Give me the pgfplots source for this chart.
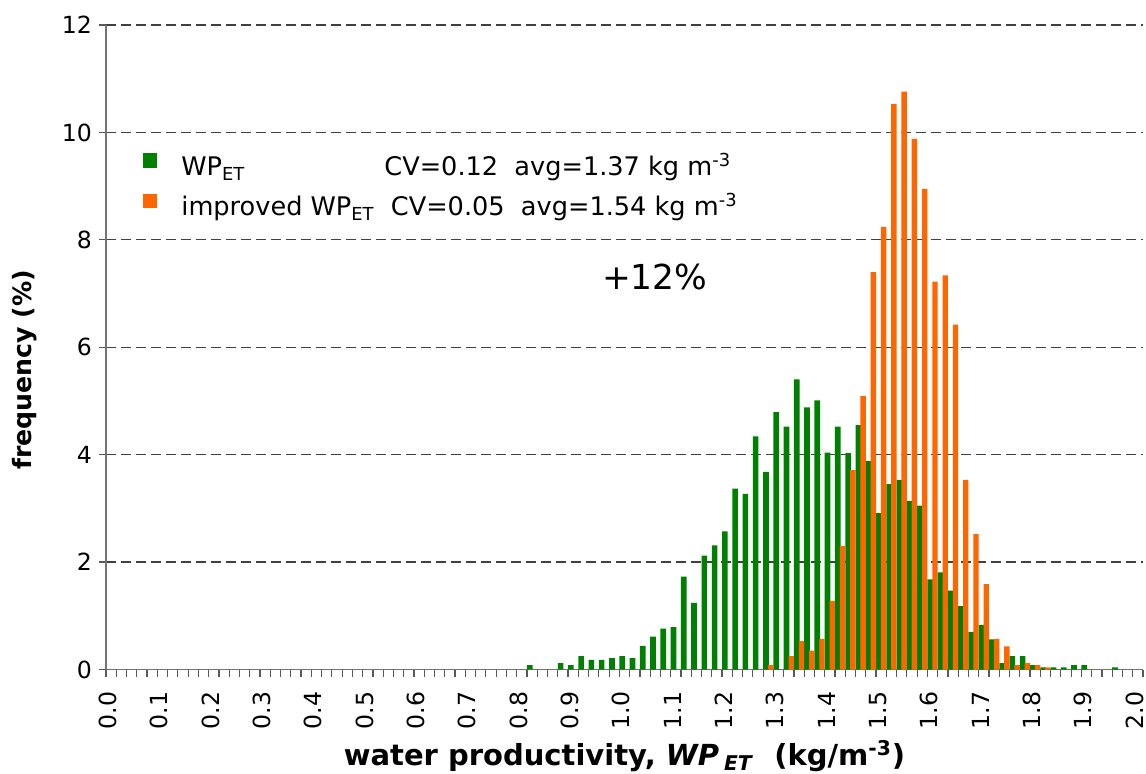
\documentclass[border=0pt]{standalone}
\usepackage{pgfplots}
\usepackage{pgfplotstable}
\pgfplotsset{compat=1.18}
\usepackage{fontspec}
\setmainfont{DejaVu Sans}
\definecolor{wpgreen}{HTML}{008000}
\definecolor{wporange}{HTML}{FF6600}

% bin centre (bins of 0.02) and frequency (%)
\pgfplotstableread{
x f
0.83 0.08
0.89 0.12
0.91 0.08
0.93 0.25
0.95 0.18
0.97 0.18
0.99 0.21
1.01 0.25
1.03 0.21
1.05 0.44
1.07 0.61
1.09 0.76
1.11 0.79
1.13 1.73
1.15 1.24
1.17 2.12
1.19 2.31
1.21 2.57
1.23 3.37
1.25 3.27
1.27 4.34
1.29 3.68
1.31 4.79
1.33 4.52
1.35 5.40
1.37 4.88
1.39 5.01
1.41 4.04
1.43 4.52
1.45 4.03
1.47 4.55
1.49 3.88
1.51 2.91
1.53 3.45
1.55 3.53
1.57 3.14
1.59 3.05
1.61 1.68
1.63 1.81
1.65 1.47
1.67 1.18
1.69 0.70
1.71 0.83
1.73 0.56
1.75 0.12
1.77 0.25
1.79 0.25
1.81 0.08
1.83 0.04
1.85 0.04
1.87 0.04
1.89 0.08
1.91 0.08
1.97 0.04
}\wpet

\pgfplotstableread{
x f
1.29 0.08
1.33 0.25
1.35 0.53
1.37 0.35
1.39 0.57
1.41 1.28
1.43 2.30
1.45 3.71
1.47 5.09
1.49 7.40
1.51 8.24
1.53 10.53
1.55 10.76
1.57 9.88
1.59 8.95
1.61 7.22
1.63 7.34
1.65 6.42
1.67 3.53
1.69 2.52
1.71 1.59
1.73 0.57
1.75 0.43
1.77 0.08
1.79 0.12
1.81 0.08
1.83 0.04
}\wpimp

\begin{document}
\begin{tikzpicture}[x=1pt,y=1pt]
\useasboundingbox (-53,-51.75) rectangle (520,334.75);
\begin{axis}[
  at={(0,0)}, anchor=south west, scale only axis,
  width=518.5pt, height=322.25pt,
  xmin=0, xmax=2.02, ymin=0, ymax=12,
  axis x line*=bottom, axis y line*=left,
  axis line style={draw=black!55, line width=0.7pt},
  tick align=outside,
  major tick length=3.5pt, minor tick length=3.5pt,
  tick style={black!65, line width=0.6pt},
  xtick={0,0.1,0.2,0.3,0.4,0.5,0.6,0.7,0.8,0.9,1.0,1.1,1.2,1.3,1.4,1.5,1.6,1.7,1.8,1.9,2.0},
  xticklabels={0.0,0.1,0.2,0.3,0.4,0.5,0.6,0.7,0.8,0.9,1.0,1.1,1.2,1.3,1.4,1.5,1.6,1.7,1.8,1.9,2.0},
  minor xtick={0,0.02,...,2.02},
  ytick={2,4,...,12},
  extra y ticks={0}, extra y tick style={grid=none},
  ymajorgrids,
  major grid style={draw=black!75, dash pattern=on 5pt off 2.5pt, line width=0.65pt},
  /pgf/number format/assume math mode=true,
  tick label style={font=\fontsize{11.8}{14}\selectfont},
  xticklabel style={xshift=1pt, rotate=90, anchor=east, inner xsep=7.5pt},
  xlabel={\textbf{water productivity, \textit{WP}\,\textsubscript{\textit{ET}}~~(kg/m\textsuperscript{-3})}},
  xlabel style={at={(axis description cs:0.5,-0.1497)}, anchor=base, inner sep=0pt, font=\fontsize{14.5}{17}\selectfont},
  ylabel={\textbf{frequency (\%)}},
  ylabel style={at={(axis description cs:-0.0665,0.465)}, anchor=south, inner sep=0pt, font=\fontsize{12.6}{15}\selectfont},
  legend style={at={(axis description cs:0.035,0.8014)}, anchor=north west, draw=none, fill=none,
    inner sep=0pt, row sep=5.15pt, column sep=12.15pt,
    font=\fontsize{12.8}{15}\selectfont,
    nodes={inner sep=0pt, text height=10pt, text depth=4pt}},
  legend cell align=left,
  legend image code/.code={\fill[#1] (0pt,0.85pt) rectangle (7.2pt,8pt);},
]
\addplot[ybar, bar width=0.011, bar shift=-0.0045, fill=wpgreen, draw=none] table[x=x,y=f] {\wpet};
\addlegendentry{\makebox[101.5pt][l]{WP\textsubscript{ET}}CV=0.12~~avg=1.37 kg m\textsuperscript{-3}}
\addplot[ybar, bar width=0.0105, bar shift=0.00475, fill=wporange, draw=none] table[x=x,y=f] {\wpimp};
\addlegendentry{improved WP\textsubscript{ET}~~CV=0.05~~avg=1.54 kg m\textsuperscript{-3}}
\node[font=\fontsize{17.2}{20}\selectfont, anchor=base] at (axis cs:1.069,7.08) {+12\%};
\end{axis}
\end{tikzpicture}
\end{document}
